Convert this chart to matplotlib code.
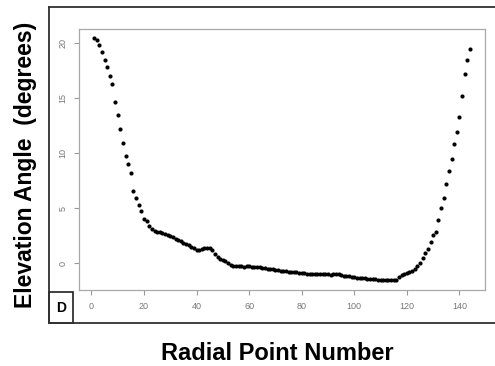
import matplotlib
matplotlib.use("Agg")
import matplotlib.pyplot as plt
from matplotlib.lines import Line2D
from matplotlib.patches import Rectangle

plt.rcParams['font.family'] = ['Liberation Sans', 'DejaVu Sans']

# radial point number and elevation angle (degrees)
radial_point = list(range(1, 145))
elevation = [
    20.45, 20.3, 19.8, 19.2, 18.5, 17.8, 17.0, 16.3, 14.7, 13.5,
    12.2, 10.9, 9.75, 9.05, 8.2, 6.6, 5.9, 5.25, 4.75, 4.0,
    3.8, 3.35, 3.1, 2.95, 2.85, 2.8, 2.7, 2.65, 2.55, 2.45,
    2.35, 2.2, 2.1, 2.0, 1.85, 1.75, 1.6, 1.5, 1.35, 1.2,
    1.15, 1.25, 1.35, 1.4, 1.35, 1.15, 0.8, 0.55, 0.4, 0.25,
    0.2, 0.05, -0.15, -0.25, -0.3, -0.3, -0.3, -0.32, -0.3, -0.28,
    -0.32, -0.35, -0.35, -0.4, -0.42, -0.45, -0.55, -0.55, -0.58, -0.6,
    -0.62, -0.68, -0.72, -0.75, -0.78, -0.8, -0.85, -0.85, -0.88, -0.9,
    -0.93, -0.95, -0.97, -1.0, -1.0, -1.0, -0.98, -0.95, -0.95, -1.02,
    -1.08, -1.0, -0.95, -0.98, -1.1, -1.15, -1.2, -1.22, -1.25, -1.3,
    -1.32, -1.35, -1.37, -1.4, -1.42, -1.45, -1.47, -1.48, -1.5, -1.52,
    -1.55, -1.55, -1.56, -1.57, -1.55, -1.5, -1.3, -1.1, -1.0, -0.92,
    -0.82, -0.68, -0.5, -0.3, 0.03, 0.48, 0.88, 1.27, 1.94, 2.52,
    2.85, 3.88, 5.03, 5.94, 7.2, 8.36, 9.5, 10.85, 11.9, 13.3,
    15.2, 17.2, 18.5, 19.5,
]
x_ticks = [0, 20, 40, 60, 80, 100, 120, 140]
y_ticks = [0, 5, 10, 15, 20]

W, H = 495, 366
fig = plt.figure(figsize=(W / 100, H / 100), dpi=100)

ax = fig.add_axes([79 / W, 1 - 290 / H, (485 - 79) / W, (290 - 29) / H])
ax.plot(radial_point, elevation, 'o', color='black', ms=3.0, mec='black', mew=0)
ax.set_xlim(-4.72, 149.72)
ax.set_ylim(-2.45, 21.3)
ax.set_xticks(x_ticks)
ax.set_yticks(y_ticks)
for sp in ax.spines.values():
    sp.set_color('#a8a8a8')
    sp.set_linewidth(0.9)
ax.tick_params(colors='#999999', labelcolor='#777777', labelsize=6.5,
               length=3.5, width=0.8, pad=5)
for lab in ax.get_yticklabels():
    lab.set_rotation(90)
    lab.set_va('center')

# outer frame (left, top, bottom)
frame_kw = dict(color='#303030', lw=1.3, transform=fig.transFigure)
fig.add_artist(Line2D([49 / W, 49 / W], [1 - 7 / H, 1 - 323 / H], **frame_kw))
fig.add_artist(Line2D([49 / W, 1], [1 - 7 / H, 1 - 7 / H], **frame_kw))
fig.add_artist(Line2D([49 / W, 1], [1 - 323 / H, 1 - 323 / H], **frame_kw))

# panel letter box
fig.add_artist(Rectangle((49 / W, 1 - 323 / H), 24 / W, 31 / H, fill=False,
                         edgecolor='#202020', lw=1.2, transform=fig.transFigure))
fig.text(61 / W, 1 - 307.5 / H, 'D', ha='center', va='center',
         fontsize=10, fontweight='bold')

fig.text(26 / W, 1 - 165 / H, 'Elevation Angle  (degrees)', rotation=90,
         ha='center', va='center', fontsize=16.5, fontweight='bold')
fig.text(277 / W, 1 - 354 / H, 'Radial Point Number', ha='center',
         va='center', fontsize=17, fontweight='bold')

fig.savefig('out.png', dpi=100)
